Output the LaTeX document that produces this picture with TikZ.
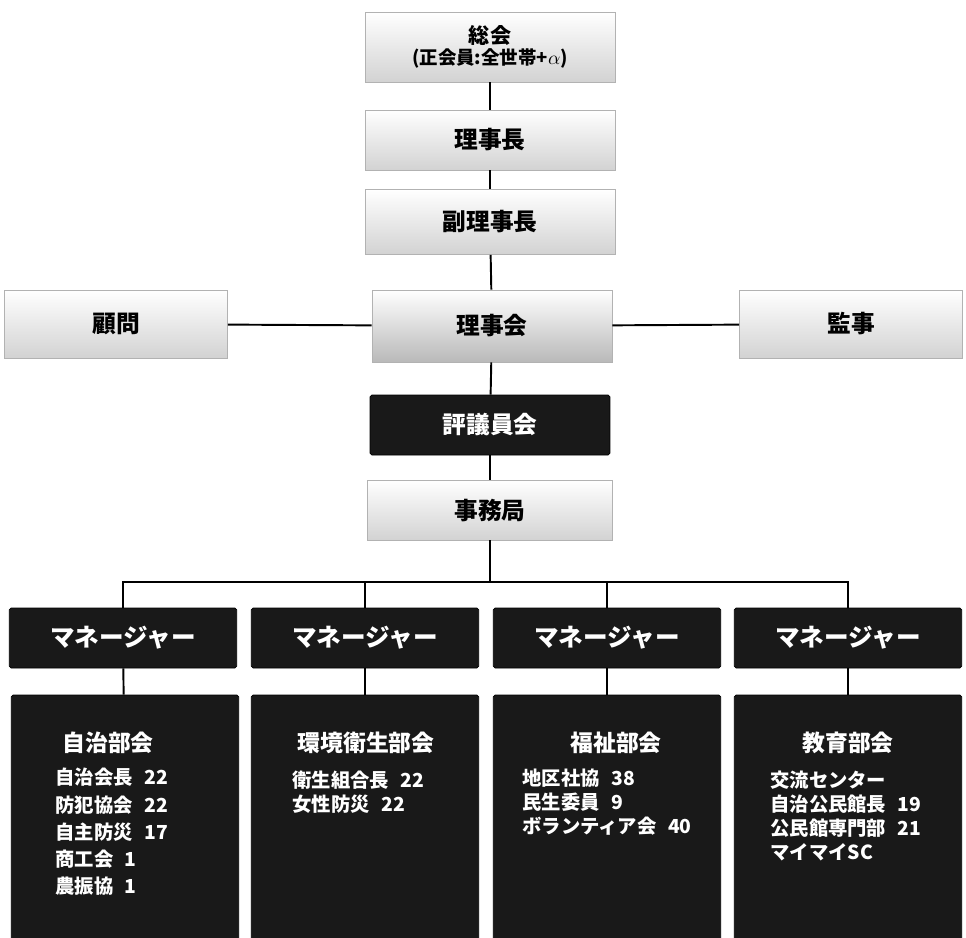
\documentclass[tikz,border=0pt]{standalone}
\usepackage{fontspec}
\setmainfont{Noto Sans CJK JP}
\usepackage{xcolor}
\usepackage{tikz}

\begin{document}
\begin{tikzpicture}[x=0.02cm, y=-0.02cm,
    lightbox/.style={draw=gray!60, thin, top color=white, bottom color=gray!35,
      minimum width=5cm, minimum height=1.2cm, font=\fontsize{13.5}{15}\selectfont\bfseries, align=center},
    darkbox/.style={draw=black, fill=black!90, text=white, rounded corners=1pt,
      font=\fontsize{13.5}{15}\selectfont\bfseries},
    mgrbox/.style={darkbox, minimum width=4.55cm, minimum height=1.2cm,
      font=\fontsize{14}{16}\selectfont\bfseries},
    deptbox/.style={darkbox, minimum width=4.55cm, minimum height=5cm},
    depttitle/.style={text=white, font=\fontsize{13}{15}\selectfont\bfseries},
    deptitems/.style={text=white, anchor=north west, align=left, inner sep=0pt,
      font=\fontsize{11}{13.5}\selectfont\bfseries},
    link/.style={line width=1.1pt}]
  \useasboundingbox (0,0) rectangle (966,937);
  % central column
  \node[lightbox, minimum height=1.4cm, font=\fontsize{12}{14}\selectfont\bfseries] (soukai) at (490,47)
       {総会\\[-2pt]{\fontsize{10.5}{12}\selectfont (正会員:全世帯+$\alpha$)}};
  \node[lightbox] (rijicho) at (490,140) {理事長};
  \node[lightbox, minimum height=1.3cm] (fukuriji) at (490,222) {副理事長};
  \node[lightbox, minimum width=4.8cm, minimum height=1.44cm, bottom color=gray!55] (rijikai) at (492,326) {理事会};
  \node[lightbox, minimum width=4.46cm, minimum height=1.36cm] (komon) at (116,324) {顧問};
  \node[lightbox, minimum width=4.46cm, minimum height=1.36cm] (kanji) at (851,324) {監事};
  \node[darkbox, minimum width=4.8cm, minimum height=1.2cm] (hyogi) at (490,425) {評議員会};
  \node[lightbox, minimum width=4.9cm] (jimu) at (490,510) {事務局};
  \coordinate (bus) at (490,582);
  % managers and sections
  \node[mgrbox] (mgrA) at (123,638) {マネージャー};
  \node[mgrbox] (mgrB) at (365,638) {マネージャー};
  \node[mgrbox] (mgrC) at (607,638) {マネージャー};
  \node[mgrbox] (mgrD) at (848,638) {マネージャー};
  \node[deptbox] (deptA) at (125,820) {};
  \node[deptbox] (deptB) at (365,820) {};
  \node[deptbox] (deptC) at (607,820) {};
  \node[deptbox] (deptD) at (848,820) {};
  % section texts
  \node[depttitle] (titleA) at (108,743) {自治部会};
  \node[deptitems, font=\fontsize{11}{15.5}\selectfont\bfseries] (itemsA) at (55,768)
       {自治会長\hspace{0.6em}22\\防犯協会\hspace{0.6em}22\\自主防災\hspace{0.6em}17\\商工会\hspace{0.6em}1\\農振協\hspace{0.6em}1};
  \node[depttitle] (titleB) at (366,743) {環境衛生部会};
  \node[deptitems] (itemsB) at (292,771)
       {衛生組合長\hspace{0.6em}22\\女性防災\hspace{0.6em}22};
  \node[depttitle] (titleC) at (616,743) {福祉部会};
  \node[deptitems] (itemsC) at (522,769)
       {地区社協\hspace{0.6em}38\\民生委員\hspace{0.6em}9\\ボランティア会\hspace{0.6em}40};
  \node[depttitle] (titleD) at (848,743) {教育部会};
  \node[deptitems] (itemsD) at (770,771)
       {交流センター\\自治公民館長\hspace{0.6em}19\\公民館専門部\hspace{0.6em}21\\マイマイSC};
  % connectors
  \draw[link] (soukai) -- (rijicho);
  \draw[link] (rijicho) -- (fukuriji);
  \draw[link] (fukuriji) -- (rijikai);
  \draw[link] (komon) -- (rijikai);
  \draw[link] (rijikai) -- (kanji);
  \draw[link] (rijikai) -- (hyogi);
  \draw[link] (hyogi) -- (jimu);
  \draw[link] (jimu) -- (bus);
  \draw[link] (mgrA.north) |- (bus) -| (mgrD.north);
  \draw[link] (mgrB.north) |- (bus);
  \draw[link] (mgrC.north) |- (bus);
  \foreach \s in {A,B,C,D}
    \draw[link] (mgr\s) -- (dept\s);
\end{tikzpicture}
\end{document}
